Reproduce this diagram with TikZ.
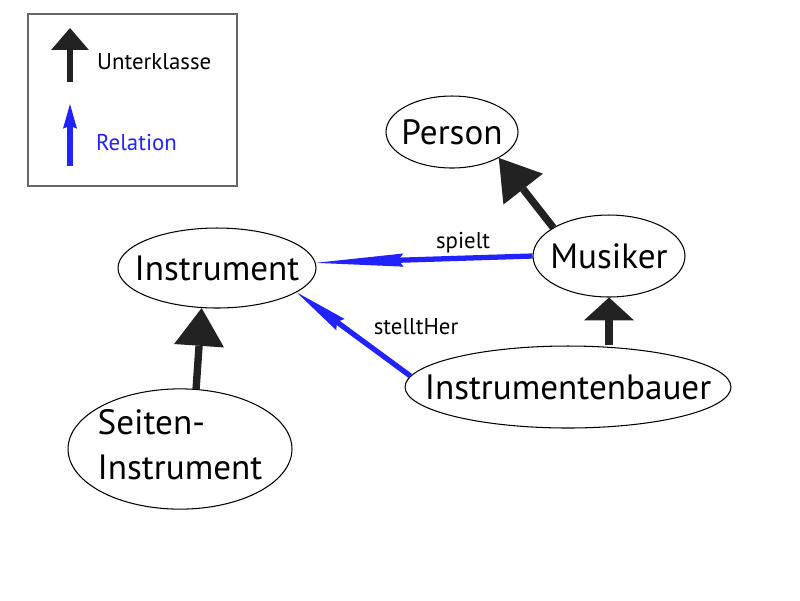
\documentclass[tikz,border=0pt]{standalone}
\usepackage{fontspec}
\setmainfont{PT Sans}
\usetikzlibrary{shapes.geometric,arrows.meta}
\definecolor{pfeilschwarz}{HTML}{222222}
\definecolor{relblau}{HTML}{2222FF}
\newcommand{\ohnebreite}[1]{\makebox[0pt]{#1}}
\tikzset{
  klasse/.style={draw, ellipse, line width=0.6pt, inner sep=0pt, font=\fontsize{20}{22.7}\selectfont},
  unterklasse/.style={draw=pfeilschwarz, line width=4.2pt},
  relation/.style={draw=relblau, line width=3pt},
  beschriftung/.style={font=\fontsize{13}{15}\selectfont}
}
\begin{document}
\begin{tikzpicture}[x=0.02cm, y=-0.02cm]
    \useasboundingbox (0,0) rectangle (800,600);
    % legend
    \draw[draw=black!60, line width=1.1pt] (28,14) rectangle (237,186);
    \coordinate (legsubfuss) at (70,82);
    \coordinate (legsubspitze) at (70,28);
    \coordinate (legrelfuss) at (70,166);
    \coordinate (legrelspitze) at (70,104);
    \draw[unterklasse, line width=3.4pt, -{Triangle[width=21.5pt, length=12.5pt, line width=0pt, fill=pfeilschwarz]}] (legsubfuss) -- (legsubspitze);
    \draw[relation, line width=3.6pt, -{Stealth[width=8pt, length=14pt, inset=1.5pt, line width=0pt, fill=relblau]}] (legrelfuss) -- (legrelspitze);
    \node[beschriftung, anchor=west] (legsubtext) at (91,62) {Unterklasse};
    \node[beschriftung, anchor=west, text=relblau] (legreltext) at (90,143) {Relation};
    % classes
    \node[klasse, minimum width=2.64cm, minimum height=1.44cm] (person) at (452,132) {\ohnebreite{Person}};
    \node[klasse, minimum width=3.96cm, minimum height=1.6cm] (instrument) at (217,268) {\ohnebreite{Instrument}};
    \node[klasse, minimum width=3.04cm, minimum height=1.64cm] (musiker) at (609,256) {\ohnebreite{Musiker}};
    \node[klasse, minimum width=6.52cm, minimum height=1.64cm] (bauer) at (568,387) {\ohnebreite{Instrumentenbauer}};
    \node[klasse, minimum width=4.48cm, minimum height=2.28cm] (seiten) at (180,449)
        {\ohnebreite{\begin{tabular}{@{}l@{}}Seiten-\\[3pt]Instrument\end{tabular}}};
    % subclass arrows
    \draw[unterklasse, -{Triangle[width=28.5pt, length=22.5pt, line width=0pt, fill=pfeilschwarz]}] (musiker.153) -- (person.-29);
    \draw[unterklasse, -{Triangle[width=28.5pt, length=13pt, line width=0pt, fill=pfeilschwarz]}] (bauer.north -| musiker.south) -- (musiker.south);
    \draw[unterklasse, -{Triangle[width=28.5pt, length=21.5pt, line width=0pt, fill=pfeilschwarz]}] (seiten.75) -- (instrument.-111);
    % relations
    \draw[relation, -{Stealth[width=7.5pt, length=50pt, inset=3pt, line width=0pt, fill=relblau]}] (musiker.west) -- (instrument.3)
        node[beschriftung, pos=0.32, above=-2pt] (spielt) {spielt};
    \draw[relation, -{Stealth[width=8pt, length=31pt, inset=2.5pt, line width=0pt, fill=relblau]}] (bauer.176) -- (instrument.-17)
        node[beschriftung, pos=0.35, above right=2pt, xshift=-5pt] (stellther) {stelltHer};
\end{tikzpicture}
\end{document}
